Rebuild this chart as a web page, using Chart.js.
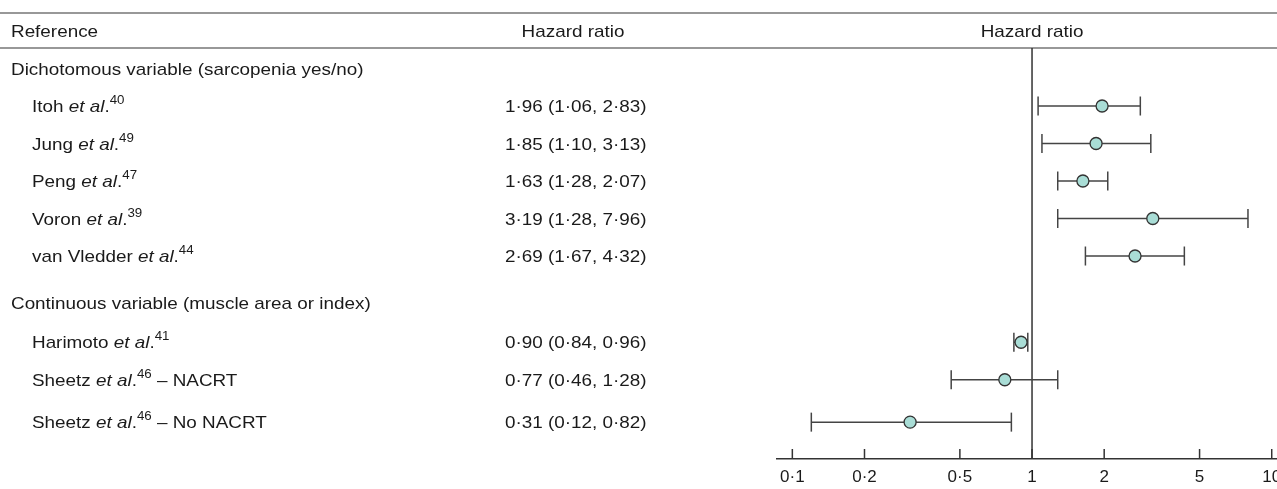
<!DOCTYPE html>
<html>
<head>
<meta charset="utf-8">
<script src="https://cdn.jsdelivr.net/npm/chart.js@4"></script>
<style>
  html, body { margin: 0; padding: 0; background: #fff; overflow: hidden; }
  #wrap { position: absolute; left: 0; top: 0; }
</style>
</head>
<body>
<div id="wrap"><canvas id="forestChart" width="1297" height="489"></canvas></div>
<script>
// Data
const groups = ['Dichotomous variable (sarcopenia yes/no)', 'Continuous variable (muscle area or index)'];
const studies = ['Itoh', 'Jung', 'Peng', 'Voron', 'van Vledder', 'Harimoto', 'Sheetz', 'Sheetz'];
const refNums = ['40', '49', '47', '39', '44', '41', '46', '46'];
const suffixes = ['', '', '', '', '', '', ' \u2013 NACRT', ' \u2013 No NACRT'];
const hazard = [1.96, 1.85, 1.63, 3.19, 2.69, 0.90, 0.77, 0.31];
const ciLow = [1.06, 1.10, 1.28, 1.28, 1.67, 0.84, 0.46, 0.12];
const ciHigh = [2.83, 3.13, 2.07, 7.96, 4.32, 0.96, 1.28, 0.82];
const tickValues = [0.1, 0.2, 0.5, 1, 2, 5, 10];
const tickLabels = ['0\u00b71', '0\u00b72', '0\u00b75', '1', '2', '5', '10'];

// Layout (row units on the hidden y axis)
const headerRow = -1;
const topRuleRow = -1.48;
const groupRows = [0, 6.25];
const studyRows = [1, 2, 3, 4, 5, 7.3, 8.3, 9.43];
const yMin = -0.547, yMax = 10.413;
const xMin = 0.0863, xMax = 10.52;

const FONT = '"Liberation Sans", Arial, sans-serif';
const textStretch = 1.11;
const textColor = '#1a1a1a';

function fmt(v) {
    return v.toFixed(2).replace('.', '\u00b7');
}

// draws a run of text parts (normal / italic / superscript), slightly widened
function drawRich(ctx, x, y, parts, align) {
    ctx.save();
    ctx.translate(x, y);
    ctx.scale(textStretch, 1);
    ctx.fillStyle = textColor;
    ctx.textBaseline = 'alphabetic';
    ctx.textAlign = 'left';
    const fontFor = p => (p.i ? 'italic ' : '') + (p.sup ? '12px ' : '17px ') + FONT;
    let total = 0;
    parts.forEach(p => { ctx.font = fontFor(p); total += ctx.measureText(p.t).width; });
    let cx = align === 'center' ? -total / 2 : 0;
    parts.forEach(p => {
        ctx.font = fontFor(p);
        ctx.fillText(p.t, cx, p.sup ? -8 : 0);
        cx += ctx.measureText(p.t).width;
    });
    ctx.restore();
}

const tablePlugin = {
    id: 'forestTable',
    beforeDatasetsDraw(chart) {
        const {ctx, chartArea, scales: {x}} = chart;
        const x1 = x.getPixelForValue(1);
        ctx.save();
        ctx.strokeStyle = '#333';
        ctx.lineWidth = 1.5;
        ctx.beginPath();
        ctx.moveTo(x1, chartArea.top);
        ctx.lineTo(x1, chartArea.bottom);
        ctx.stroke();
        ctx.restore();
    },
    afterDraw(chart) {
        const {ctx, chartArea, scales: {x, y}} = chart;
        const W = 1277;
        const base = row => y.getPixelForValue(row) + 6;

        // horizontal rules
        ctx.save();
        ctx.strokeStyle = '#333';
        ctx.lineWidth = 1.2;
        [y.getPixelForValue(topRuleRow), chartArea.top].forEach(py => {
            ctx.beginPath();
            ctx.moveTo(0, py);
            ctx.lineTo(W, py);
            ctx.stroke();
        });

        // tick marks pointing up from the axis
        ctx.lineWidth = 1.5;
        tickValues.forEach(v => {
            const px = x.getPixelForValue(v);
            ctx.beginPath();
            ctx.moveTo(px, chartArea.bottom);
            ctx.lineTo(px, chartArea.bottom - 10);
            ctx.stroke();
        });
        ctx.restore();

        // header
        drawRich(ctx, 11, base(headerRow), [{t: 'Reference'}]);
        drawRich(ctx, 573, base(headerRow), [{t: 'Hazard ratio'}], 'center');
        drawRich(ctx, x.getPixelForValue(1), base(headerRow), [{t: 'Hazard ratio'}], 'center');

        // group labels
        groups.forEach((g, i) => drawRich(ctx, 11, base(groupRows[i]), [{t: g}]));

        // study rows
        studies.forEach((s, i) => {
            drawRich(ctx, 32, base(studyRows[i]), [
                {t: s + ' '}, {t: 'et al', i: true}, {t: '.'},
                {t: refNums[i], sup: true}, {t: suffixes[i]}
            ]);
            drawRich(ctx, 505, base(studyRows[i]), [
                {t: fmt(hazard[i]) + ' (' + fmt(ciLow[i]) + ', ' + fmt(ciHigh[i]) + ')'}
            ]);
        });
    }
};

// confidence interval bars, caps drawn as rotated line points
const ciSets = studies.map((s, i) => ({
    data: [{x: ciLow[i], y: studyRows[i]}, {x: ciHigh[i], y: studyRows[i]}],
    showLine: true,
    borderColor: '#444',
    borderWidth: 1.5,
    pointStyle: 'line',
    rotation: 90,
    pointRadius: 9.5,
    pointHoverRadius: 9.5,
    pointBorderColor: '#444',
    pointBorderWidth: 1.5,
    order: 2
}));

const pointSet = {
    data: hazard.map((v, i) => ({x: v, y: studyRows[i]})),
    pointRadius: 6,
    pointHoverRadius: 6,
    backgroundColor: '#a9ddd6',
    borderColor: '#333',
    borderWidth: 1.3,
    order: 1
};

const forestChart = new Chart(document.getElementById('forestChart').getContext('2d'), {
    type: 'scatter',
    data: { datasets: [pointSet, ...ciSets] },
    options: {
        responsive: false,
        animation: false,
        events: [],
        layout: { padding: { left: 777, right: 20, top: 48, bottom: 0 } },
        plugins: { legend: { display: false }, tooltip: { enabled: false } },
        scales: {
            x: {
                type: 'logarithmic',
                min: xMin,
                max: xMax,
                bounds: 'data',
                afterBuildTicks: s => { s.ticks = tickValues.map(v => ({value: v})); },
                afterFit: s => { s.height = 30; },
                grid: { display: true, drawOnChartArea: false, drawTicks: false, color: 'rgba(0,0,0,0)' },
                border: { display: true, color: '#333', width: 1.5 },
                ticks: {
                    autoSkip: false,
                    maxRotation: 0,
                    padding: 8,
                    color: textColor,
                    font: { family: FONT, size: 17 },
                    callback: (v, i) => tickLabels[i]
                }
            },
            y: {
                type: 'linear',
                reverse: true,
                min: yMin,
                max: yMax,
                display: false
            }
        }
    },
    plugins: [tablePlugin]
});
</script>
</body>
</html>
